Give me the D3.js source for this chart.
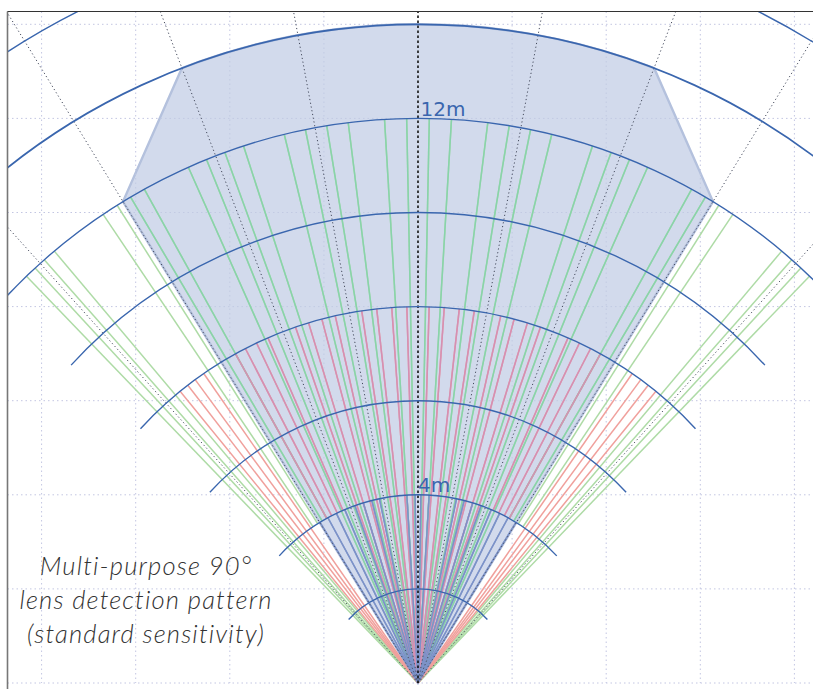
<!DOCTYPE html>
<html lang="en">
<head>
  <meta charset="UTF-8">
  <title>Multi-purpose 90° lens detection pattern</title>
  <style>
    body { margin:0; background:#fff; overflow:hidden; }
    #chart { width:813px; height:689px; display:block; }
    .range-label { font-family:"DejaVu Sans"; font-size:20px; fill:#3a66ae; }
    .note { font-family:Lato; font-style:italic; font-weight:300; font-size:25.6px; letter-spacing:1.15px; fill:#333; text-anchor:middle; }
  </style>
</head>
<body>
  <svg id="chart" viewBox="0 0 813 689"></svg>
  <script src="https://d3js.org/d3.v7.min.js"></script>
  <script>
    // angles are degrees either side of the centre line, distances in metres
    const gridX = [-16, -14, -12, -10, -8, -6, -4, -2, 2, 4, 6, 8, 10, 12, 14, 16];
    const gridY = [0, 2, 4, 6, 8, 10, 12, 14];
    const arcDistances = [2, 4, 6, 8, 10, 12, 14, 16];
    const guideAngles = [10.5, 21, 31.5, 42];
    const longBeams = [1.15, 3.4, 7.1, 9.3, 11.5, 13.7, 18, 20, 22, 24, 40.1, 41.45, 42.7, 43.9];
    const longBeamsFar = [29, 30.6, 32.2, 33.9];   // only start at 4m
    const midBeams = [1.7, 4, 6.3, 8.6, 12.7, 14.8, 16.9, 19, 34.7, 36.3, 37.7, 39.2];
    const midBeamsFar = [23.5, 25.4, 27.3, 29];    // only start at 4m
    const shortBeams = [0.9, 3.4, 11.8, 14.2, 16.9, 19.6, 22.9, 25.7, 28.6, 31.4];
    const labels = [{ text: '12m', at: 12, dx: 2.5 }, { text: '4m', at: 4, dx: 0 }];
    const noteLines = ['Multi-purpose 90°', 'lens detection pattern', '(standard sensitivity)'];

    const svg = d3.select('#chart');
    const plotL = 7.5, plotT = 11.5, plotR = 813, plotB = 689;
    const ox = 418, oy = 683, perMetre = 47.05;

    const x = d3.scaleLinear().domain([0, 1]).range([ox, ox + perMetre]);
    const y = d3.scaleLinear().domain([0, 1]).range([oy, oy - perMetre]);
    const r = d3.scaleLinear().domain([0, 1]).range([0, perMetre]);
    const rad = d => (d - 90) * Math.PI / 180;
    const both = list => list.flatMap(d => [-d, d]);
    const tip = (ang, m) => [ox + r(m) * Math.cos(rad(ang)), oy + r(m) * Math.sin(rad(ang))];

    const defs = svg.append('defs');
    defs.append('clipPath').attr('id', 'plot').append('rect')
      .attr('x', plotL).attr('y', plotT).attr('width', plotR - plotL).attr('height', plotB - plotT);

    // coverage zone: out to 12m at 31.5 deg, then up to the 14m arc at 21 deg
    const zone = d3.path();
    zone.moveTo(ox, oy);
    zone.lineTo(...tip(-31.5, 12));
    zone.lineTo(...tip(-21, 14));
    zone.arc(ox, oy, r(14), rad(-21), rad(21));
    zone.lineTo(...tip(31.5, 12));
    zone.closePath();
    defs.append('clipPath').attr('id', 'zone').append('path').attr('d', zone.toString());

    const plot = svg.append('g').attr('clip-path', 'url(#plot)');

    const gridStyle = sel => sel.attr('fill', 'none').attr('stroke', '#c3c6e2').attr('stroke-width', 1).attr('stroke-dasharray', '1.5 3');
    plot.append('g').selectAll('line').data(gridX).join('line')
      .attr('x1', d => x(d)).attr('x2', d => x(d)).attr('y1', plotT).attr('y2', oy).call(gridStyle);
    plot.append('g').selectAll('line').data(gridY).join('line')
      .attr('x1', plotL).attr('x2', plotR).attr('y1', d => y(d)).attr('y2', d => y(d)).call(gridStyle);

    function beams(parent, list, from, reach, colour) {
      parent.append('g').selectAll('line').data(both(list)).join('line')
        .attr('x1', d => tip(d, from)[0]).attr('y1', d => tip(d, from)[1])
        .attr('x2', d => tip(d, reach)[0]).attr('y2', d => tip(d, reach)[1])
        .attr('stroke', colour).attr('stroke-width', 1.5);
    }

    plot.append('path').attr('d', zone.toString()).attr('fill', '#d2daec').attr('stroke', '#b4c1dd').attr('stroke-width', 2.4);

    // grid still shows faintly through the zone
    const zoneGrid = plot.append('g').attr('clip-path', 'url(#zone)');
    zoneGrid.append('g').selectAll('line').data(gridX).join('line')
      .attr('x1', d => x(d)).attr('x2', d => x(d)).attr('y1', plotT).attr('y2', oy).call(gridStyle).attr('stroke', '#c2cae3');
    zoneGrid.append('g').selectAll('line').data(gridY).join('line')
      .attr('x1', plotL).attr('x2', plotR).attr('y1', d => y(d)).attr('y2', d => y(d)).call(gridStyle).attr('stroke', '#c2cae3');

    beams(plot, longBeams, 0, 12, '#aedba6');
    beams(plot, longBeamsFar, 4, 12, '#aedba6');
    beams(plot, midBeams, 0, 8, '#f0a09c');
    beams(plot, midBeamsFar, 4, 8, '#f0a09c');
    beams(plot, shortBeams, 0, 4, '#8299cc');

    // same beams again where they cross the zone, the colours shift there
    const inZone = plot.append('g').attr('clip-path', 'url(#zone)');
    beams(inZone, longBeams, 0, 12, '#88d3ab');
    beams(inZone, longBeamsFar, 4, 12, '#88d3ab');
    beams(inZone, midBeams, 0, 8, '#d48fb4');
    beams(inZone, midBeamsFar, 4, 8, '#d48fb4');
    beams(inZone, shortBeams, 0, 4, '#7c92c8');

    plot.append('g').selectAll('line').data(both(guideAngles)).join('line')
      .attr('x1', ox).attr('y1', oy)
      .attr('x2', d => tip(d, 20)[0]).attr('y2', d => tip(d, 20)[1])
      .attr('stroke', '#444a5c').attr('stroke-width', 1).attr('stroke-dasharray', '1.2 2.6');

    plot.append('line').attr('x1', ox).attr('x2', ox).attr('y1', oy).attr('y2', plotT)
      .attr('stroke', '#111').attr('stroke-width', 1.6).attr('stroke-dasharray', '2.4 2.6');

    plot.append('g').selectAll('path').data(arcDistances).join('path')
      .attr('d', m => {
        const p = d3.path();
        p.arc(ox, oy, r(m), rad(-47.5), rad(47.5));
        return p.toString();
      })
      .attr('fill', 'none').attr('stroke', '#3a66ae').attr('stroke-width', d => d === 14 ? 1.7 : 1.4);

    svg.append('g').selectAll('text').data(labels).join('text')
      .attr('class', 'range-label')
      .attr('x', d => ox + d.dx).attr('y', d => y(d.at) - 2.5)
      .text(d => d.text);

    svg.append('g').selectAll('text').data(noteLines).join('text')
      .attr('class', 'note')
      .attr('x', 146).attr('y', (d, i) => 575 + i * 34)
      .text(d => d);

    svg.append('line').attr('x1', plotL).attr('x2', plotL).attr('y1', plotT).attr('y2', plotB)
      .attr('stroke', '#777').attr('stroke-width', 1.6);
    svg.append('line').attr('x1', plotL).attr('x2', plotR).attr('y1', plotT).attr('y2', plotT)
      .attr('stroke', '#333').attr('stroke-width', 1.2);
  </script>
</body>
</html>
